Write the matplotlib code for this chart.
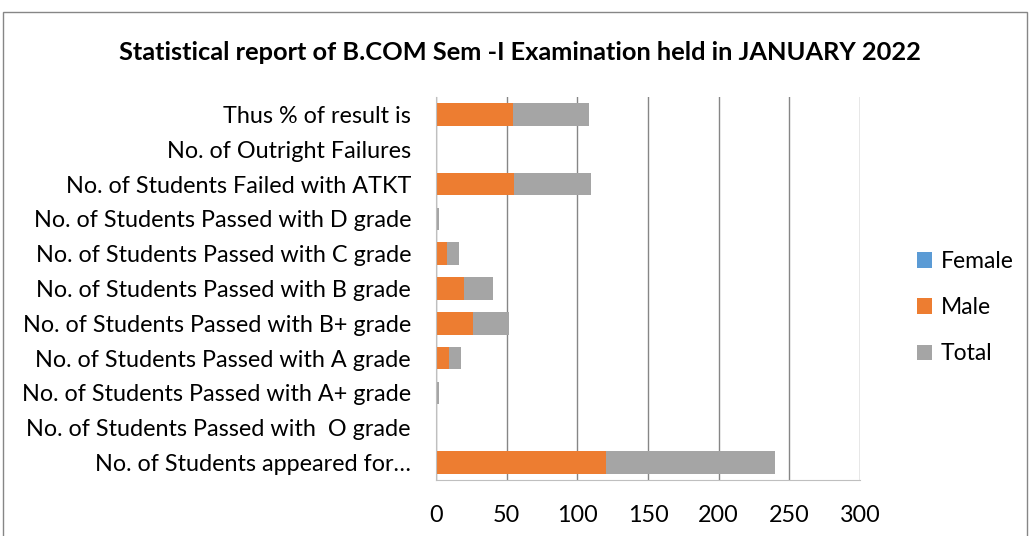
import matplotlib.pyplot as plt
from matplotlib.patches import Rectangle

categories = [
    "No. of Students appeared for…",
    "No. of Students Passed with  O grade",
    "No. of Students Passed with A+ grade",
    "No. of Students Passed with A grade",
    "No. of Students Passed with B+ grade",
    "No. of Students Passed with B grade",
    "No. of Students Passed with C grade",
    "No. of Students Passed with D grade",
    "No. of Students Failed with ATKT",
    "No. of Outright Failures",
    "Thus % of result is",
]
female = [0, 0, 0, 0, 0, 0, 0, 0, 0, 0, 0]
male = [120, 0, 1, 9, 26, 20, 8, 1, 55, 0, 54.17]
total = [120, 0, 1, 9, 26, 20, 8, 1, 55, 0, 54.17]
xticks = [0, 50, 100, 150, 200, 250, 300]

plt.rcParams['font.family'] = ['Lato', 'DejaVu Sans']

fig = plt.figure(figsize=(10.30, 5.36), dpi=100)
ax = fig.add_axes([436 / 1030, 1 - 480 / 536, 424 / 1030, 383 / 536])

y = range(len(categories))
h = 0.65
ax.barh(y, female, height=h, color='#5b9bd5', label='Female')
ax.barh(y, male, height=h, left=female, color='#ed7d31', label='Male')
left2 = [f + m for f, m in zip(female, male)]
ax.barh(y, total, height=h, left=left2, color='#a5a5a5', label='Total')

ax.set_xlim(0, 300)
ax.set_ylim(-0.5, len(categories) - 0.5)
ax.set_xticks(xticks)
ax.set_yticks(list(y))
ax.set_yticklabels(categories, fontsize=16.8)
ax.tick_params(axis='x', labelsize=16.8, length=0, pad=18)
ax.tick_params(axis='y', length=0, pad=18)
ax.xaxis.grid(True, color='#868686', linewidth=1)
ax.set_axisbelow(True)
for s in ['top', 'right']:
    ax.spines[s].set_visible(False)
ax.spines['left'].set_color('#bfbfbf')
ax.spines['bottom'].set_color('#bfbfbf')

fig.text(0.505, 1 - 52 / 536, 'Statistical report of B.COM Sem -I Examination held in JANUARY 2022',
         ha='center', va='center', fontsize=18.3, fontweight='bold')

ax.legend(loc='center left', bbox_to_anchor=((896 - 436) / 424, 0.45), frameon=False,
          fontsize=16.5, handlelength=0.65, handleheight=0.65, labelspacing=1.1, handletextpad=0.4)

fig.patches.append(Rectangle((3 / 1030, -0.01), 1024 / 1030, 1 - 12 / 536 + 0.01,
                             transform=fig.transFigure, fill=False, edgecolor='#868686', linewidth=1))

fig.savefig('out.png', dpi=100)
